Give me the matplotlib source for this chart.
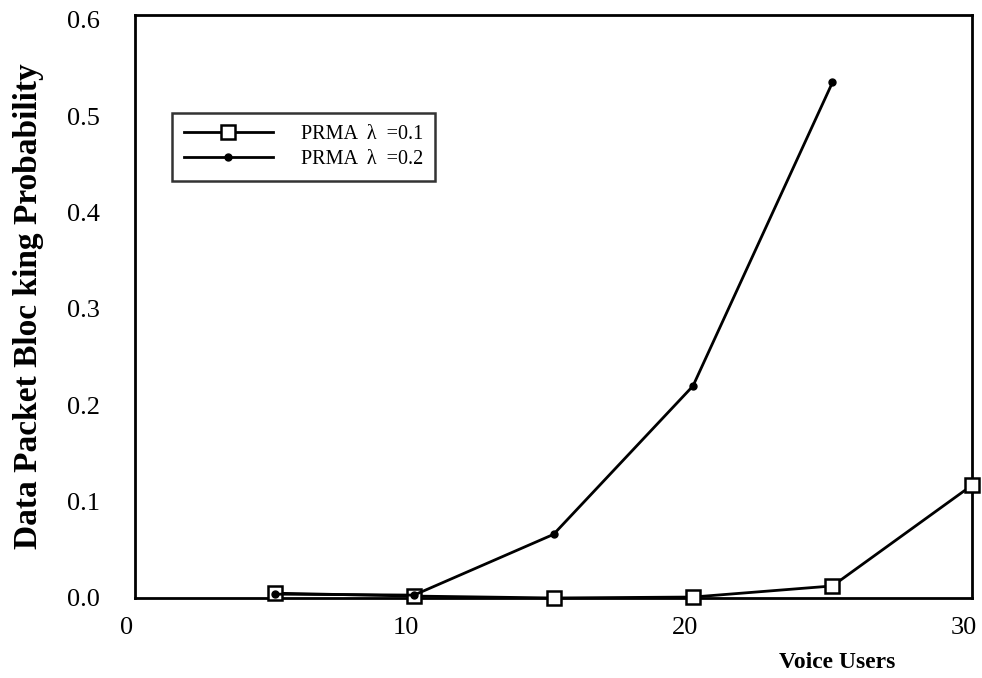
import matplotlib.pyplot as plt
import matplotlib.transforms as mtransforms
import numpy as np

plt.rcParams["font.family"] = ["Liberation Serif", "DejaVu Serif"]

voice_users = [5, 10, 15, 20, 25, 30]
block_01 = [0.005, 0.002, 0.0, 0.001, 0.0125, 0.117]
voice_users_02 = [5, 10, 15, 20, 25]
block_02 = [0.004, 0.003, 0.066, 0.22, 0.535]

fig = plt.figure(figsize=(9.82, 6.78), dpi=100)
ax = fig.add_axes([0.1375, 0.118, 0.8523, 0.86])

ax.plot(voice_users, block_01, color="black", lw=2, marker="s", ms=10,
        mfc="white", mec="black", mew=1.8, label="PRMA  λ  =0.1",
        clip_on=False, zorder=3)
ax.plot(voice_users_02, block_02, color="black", lw=2, marker="o", ms=5,
        mfc="black", mec="black", label="PRMA  λ  =0.2",
        clip_on=False, zorder=3)

ax.set_xlim(0, 30)
ax.set_ylim(0, 0.605)
ax.set_xticks([0, 10, 20, 30])
ax.set_yticks(np.arange(0, 0.61, 0.1))
ax.set_yticklabels(["0.0", "0.1", "0.2", "0.3", "0.4", "0.5", "0.6"])
ax.tick_params(axis="both", length=0, labelsize=19)
ax.tick_params(axis="y", pad=25)
ax.tick_params(axis="x", pad=14)
# x tick labels sit a little left of their positions
shift = mtransforms.ScaledTranslation(-8 / 100, 0, fig.dpi_scale_trans)
for lbl in ax.get_xticklabels():
    lbl.set_transform(lbl.get_transform() + shift)
for s in ax.spines.values():
    s.set_linewidth(2)

ax.set_ylabel("Data Packet Bloc king Probability", fontsize=24,
              fontweight="bold", labelpad=17)
ax.text(837, 16, "Voice Users", transform=None, fontsize=17,
        fontweight="bold", ha="center", va="center")

leg = ax.legend(loc="upper left", bbox_to_anchor=(0.044, 0.832), fontsize=14.5,
                frameon=True, fancybox=False, edgecolor="black",
                handlelength=4.4, handletextpad=1.4, borderpad=0.6,
                labelspacing=0.3, borderaxespad=0)
leg.get_frame().set_linewidth(1.8)

fig.savefig("out.png", dpi=100)
